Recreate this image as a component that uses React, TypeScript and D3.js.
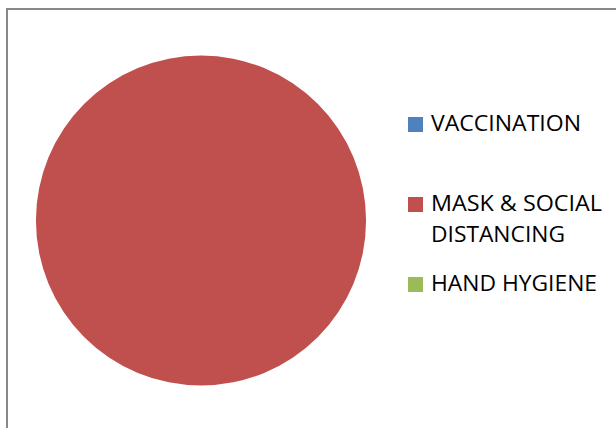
import React from "react";
import * as d3 from "d3";

const categories = ["VACCINATION", "MASK & SOCIAL DISTANCING", "HAND HYGIENE"];
const values = [0, 100, 0];
const legendLines = [["VACCINATION"], ["MASK & SOCIAL", "DISTANCING"], ["HAND HYGIENE"]];
const colors = ["#4F81BD", "#C0504D", "#9BBB59"];

export default function App() {
  const W = 616, H = 428;
  const cx = 201, cy = 220.5, r = 165;
  const pie = d3.pie<number>().sort(null).value((d) => d);
  const arcs = pie(values);
  const arc = d3.arc<d3.PieArcDatum<number>>().innerRadius(0).outerRadius(r);
  const legendY = [131, 211, 291];
  const lineWidths = [[150], [171], [166]];
  const line2Widths = [[0], [0, 134], [0]];
  return (
    <svg width={W} height={H} style={{ position: "absolute", left: 0, top: 0, background: "#fff" }}>
      <rect x={7} y={9} width={W + 20} height={H + 20} fill="#fff" stroke="#888" strokeWidth={2} />
      <g transform={`translate(${cx},${cy})`}>
        {arcs.map((a, i) =>
          a.endAngle - a.startAngle > 0 ? <path key={i} d={arc(a) || ""} fill={colors[i]} /> : null
        )}
      </g>
      {categories.map((c, i) => (
        <g key={c}>
          <rect x={408} y={legendY[i] - 14} width={15} height={15} fill={colors[i]} />
          {legendLines[i].map((l, j) => (
            <text
              key={j}
              x={431}
              y={legendY[i] + j * 31}
              fontFamily="'Open Sans', sans-serif"
              fontSize={21}
              fill="#000"
              textLength={j === 0 ? lineWidths[i][0] : line2Widths[i][j]}
              lengthAdjust="spacingAndGlyphs"
            >
              {l}
            </text>
          ))}
        </g>
      ))}
    </svg>
  );
}
